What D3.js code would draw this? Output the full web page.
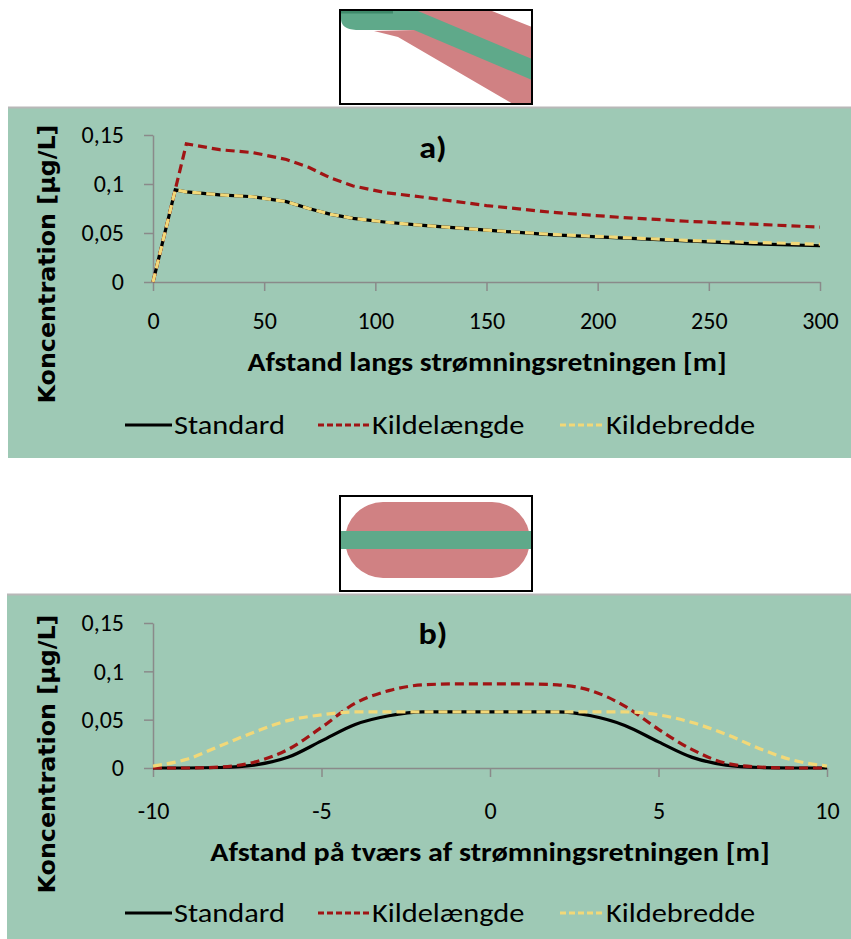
<!DOCTYPE html>
<html>
<head>
<meta charset="utf-8">
<script src="https://cdn.jsdelivr.net/npm/d3@7"></script>
<style>
  body { margin: 0; background: #fff; }
  svg { display: block; }
  text { font-family: Carlito, Lato, sans-serif; fill: #000; }
</style>
</head>
<body>
<script>
// series names (legend order)
var seriesNames = ["Standard", "Kildelængde", "Kildebredde"];

// a) distance along flow direction [m]
var distA = [0, 10, 15, 30, 45, 60, 70, 80, 90, 105, 120, 150, 180, 210, 240, 270, 300];
var standardA = [0, 0.094, 0.092, 0.089, 0.087, 0.082, 0.075, 0.069, 0.065, 0.061, 0.058, 0.053, 0.048, 0.045, 0.042, 0.039, 0.037];
var kildelaengdeA = [0, 0.094, 0.141, 0.135, 0.132, 0.125, 0.117, 0.106, 0.098, 0.091, 0.087, 0.078, 0.071, 0.066, 0.062, 0.059, 0.056];
var kildebreddeA = [0, 0.094, 0.092, 0.089, 0.087, 0.082, 0.075, 0.069, 0.065, 0.061, 0.058, 0.053, 0.0485, 0.0455, 0.0425, 0.0405, 0.0385];

// b) distance across flow direction [m]
var distB = [-10, -9, -8, -7, -6, -5, -4, -3, -2, -1, 0, 1, 2, 3, 4, 5, 6, 7, 8, 9, 10];
var standardB = [0, 0, 0.0005, 0.003, 0.011, 0.028, 0.045, 0.054, 0.058, 0.058, 0.058, 0.058, 0.058, 0.054, 0.044, 0.027, 0.011, 0.003, 0.0005, 0, 0];
var kildelaengdeB = [0, 0, 0.001, 0.006, 0.019, 0.042, 0.067, 0.080, 0.086, 0.087, 0.087, 0.087, 0.086, 0.080, 0.064, 0.040, 0.019, 0.005, 0.001, 0, 0];
var kildebreddeB = [0.002, 0.009, 0.023, 0.037, 0.049, 0.055, 0.058, 0.058, 0.058, 0.058, 0.058, 0.058, 0.058, 0.058, 0.058, 0.055, 0.047, 0.035, 0.020, 0.008, 0.002];

// tick values
var yTicks = [0, 0.05, 0.1, 0.15];
var xTicksA = [0, 50, 100, 150, 200, 250, 300];
var xTicksB = [-10, -5, 0, 5, 10];

var fmt = function(d) { return String(d).replace(".", ","); };

var colors = { Standard: "#000000", "Kildelængde": "#a01414", Kildebredde: "#f2d878" };
var dashes = { Standard: null, "Kildelængde": "9,5", Kildebredde: "9,5" };

var svg = d3.select("body").append("svg")
  .attr("width", 851)
  .attr("height", 939);

// the original text is a bit wider than Lato, so stretch it sideways
function wideText(parent, x, y, sx, anchor) {
  return parent.append("text")
    .attr("transform", "translate(" + x + "," + y + ") scale(" + sx + ",1)")
    .attr("text-anchor", anchor)
    .attr("dy", "0.35em");
}

function drawPanel(cfg) {
  // green background of the chart area
  svg.append("rect")
    .attr("x", cfg.panel[0]).attr("y", cfg.panel[1])
    .attr("width", 851 - cfg.panel[0]).attr("height", cfg.panel[2])
    .attr("fill", "#9ec9b5");
  svg.append("line")
    .attr("x1", cfg.panel[0]).attr("x2", 851)
    .attr("y1", cfg.panel[1] + 0.5).attr("y2", cfg.panel[1] + 0.5)
    .attr("stroke", "#b8b8b8").attr("stroke-width", 2);

  var x = d3.scaleLinear().domain(cfg.xDomain).range(cfg.xRange);
  var y = d3.scaleLinear().domain([0, 0.15]).range(cfg.yRange);

  var g = svg.append("g");

  // x axis
  var xAxis = g.append("g")
    .attr("transform", "translate(0," + cfg.yRange[0] + ")")
    .call(d3.axisBottom(x).tickValues(cfg.xTicks).tickSize(9).tickSizeOuter(0).tickFormat(fmt));
  xAxis.select(".domain").attr("stroke", "#8a8a8a").attr("stroke-width", 1.5);
  xAxis.selectAll(".tick line").attr("stroke", "#8a8a8a").attr("stroke-width", 1.5);
  xAxis.selectAll(".tick text")
    .attr("font-size", 24).attr("font-family", "Carlito, Lato, sans-serif")
    .attr("y", cfg.xLabelDy).attr("dy", "0.35em");

  // y axis
  var yAxis = g.append("g")
    .attr("transform", "translate(" + cfg.xRange[0] + ",0)")
    .call(d3.axisLeft(y).tickValues(yTicks).tickSize(9).tickSizeOuter(0).tickFormat(fmt));
  yAxis.select(".domain").attr("stroke", "#8a8a8a").attr("stroke-width", 1.5);
  yAxis.selectAll(".tick line").attr("stroke", "#8a8a8a").attr("stroke-width", 1.5);
  yAxis.selectAll(".tick text")
    .attr("font-size", 24).attr("font-family", "Carlito, Lato, sans-serif")
    .attr("x", -29);

  // the three lines, black first so the dashed ones sit on top
  var line = d3.line()
    .x(function(d) { return x(d[0]); })
    .y(function(d) { return y(d[1]); })
    .curve(cfg.curve);

  seriesNames.forEach(function(name, i) {
    var pts = cfg.xs.map(function(v, j) { return [v, cfg.series[i][j]]; });
    g.append("path")
      .datum(pts)
      .attr("d", line)
      .attr("fill", "none")
      .attr("stroke", colors[name])
      .attr("stroke-width", 3.2)
      .attr("stroke-dasharray", dashes[name]);
  });

  // panel letter
  wideText(g, 433, cfg.titleY, 1.1, "middle")
    .attr("font-size", 31).attr("font-weight", "bold")
    .text(cfg.title);

  // axis titles
  wideText(g, cfg.xTitleX, cfg.xTitleY, cfg.xTitleScale, "middle")
    .attr("font-size", 26).attr("font-weight", "bold")
    .text(cfg.xTitle);

  g.append("text")
    .attr("transform", "translate(47," + cfg.yTitleY + ") rotate(-90)")
    .attr("text-anchor", "middle").attr("dy", "0.35em")
    .attr("font-size", 23.8).attr("font-weight", "bold")
    .style("font-family", "DejaVu Sans, sans-serif")
    .text("Koncentration [µg/L]");

  // legend
  var legendX = [[125, 172], [318, 370], [560, 604]];
  seriesNames.forEach(function(name, i) {
    g.append("line")
      .attr("x1", legendX[i][0]).attr("x2", legendX[i][1])
      .attr("y1", cfg.legendY).attr("y2", cfg.legendY)
      .attr("stroke", colors[name])
      .attr("stroke-width", 3.2)
      .attr("stroke-dasharray", name === "Standard" ? null : "6,3");
    wideText(g, legendX[i][1] + 2, cfg.legendY, 1.17, "start")
      .attr("font-size", 26)
      .text(name);
  });
}

// small sketches above each chart (plume seen from above)
function drawInset(box, shapes) {
  var ig = svg.append("g");
  ig.append("rect")
    .attr("x", box[0]).attr("y", box[1]).attr("width", box[2]).attr("height", box[3])
    .attr("fill", "#fff");
  shapes.forEach(function(s) {
    ig.append("path")
      .attr("d", s.d)
      .attr("fill", s.fill);
  });
  ig.append("rect")
    .attr("x", box[0]).attr("y", box[1]).attr("width", box[2]).attr("height", box[3])
    .attr("fill", "none").attr("stroke", "#000").attr("stroke-width", 2);
}

drawInset([340, 10, 192, 94], [
  { fill: "#d08183", d: d3.line()([[418, 11], [492, 11], [532, 27], [532, 104], [513, 104], [398, 37], [374, 31], [415, 30]]) + "Z" },
  { fill: "#5fa98a", d: "M341,11 L418,11 L532,59 L532,80 L414,30 L356,30 Q341,29 341,19 Z" },
  { fill: "#3f8a6a", d: "M341,11 L393,11 L393,13.5 L341,13.5 Z" }
]);

drawInset([340, 496, 192, 95], [
  { fill: "#d08183", d: "M383,502 L492,502 A38,38 0 0 1 492,578 L383,578 A38,38 0 0 1 383,502 Z" },
  { fill: "#5fa98a", d: "M341,531 L531,531 L531,549 L341,549 Z" }
]);

drawPanel({
  panel: [8, 107, 351],
  xDomain: [0, 300], xRange: [153, 820], yRange: [282, 135],
  xTicks: xTicksA, xLabelDy: 39,
  xs: distA, series: [standardA, kildelaengdeA, kildebreddeA],
  curve: d3.curveLinear,
  title: "a)", titleY: 147,
  xTitle: "Afstand langs strømningsretningen [m]", xTitleX: 487, xTitleY: 362, xTitleScale: 1.143,
  yTitleY: 264, legendY: 425
});

drawPanel({
  panel: [7, 594, 345],
  xDomain: [-10, 10], xRange: [153, 827], yRange: [768, 623],
  xTicks: xTicksB, xLabelDy: 43,
  xs: distB, series: [standardB, kildelaengdeB, kildebreddeB],
  curve: d3.curveMonotoneX,
  title: "b)", titleY: 633,
  xTitle: "Afstand på tværs af strømningsretningen [m]", xTitleX: 490, xTitleY: 852, xTitleScale: 1.158,
  yTitleY: 754, legendY: 913
});
</script>
</body>
</html>
